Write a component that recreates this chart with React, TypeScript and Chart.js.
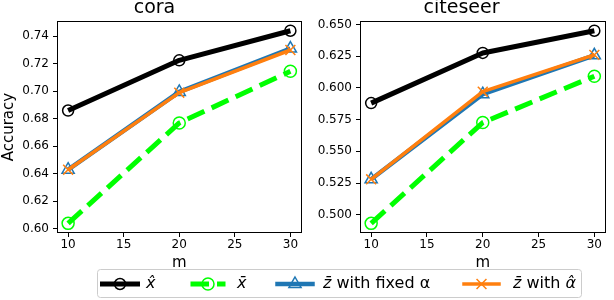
import React, { useEffect, useRef } from 'react';
import { Chart, registerables } from 'chart.js';

Chart.register(...registerables);
Chart.defaults.font.family = '"DejaVu Sans"';

// ---------- data ----------
const mValues = [10, 20, 30];
const xTickValues = [10, 15, 20, 25, 30];

const coraXHat = [0.686, 0.7225, 0.744];
const coraXBar = [0.604, 0.677, 0.7145];
const coraZFixed = [0.643, 0.6995, 0.731];
const coraZAlpha = [0.643, 0.699, 0.730];
const coraYTicks = [0.60, 0.62, 0.64, 0.66, 0.68, 0.70, 0.72, 0.74];

const citeseerXHat = [0.588, 0.6275, 0.645];
const citeseerXBar = [0.4933, 0.5727, 0.6092];
const citeseerZFixed = [0.528, 0.595, 0.6256];
const citeseerZAlpha = [0.528, 0.597, 0.626];
const citeseerYTicks = [0.500, 0.525, 0.550, 0.575, 0.600, 0.625, 0.650];

const panelTitles = ['cora', 'citeseer'];
const yAxisTitle = 'Accuracy';
const xAxisTitle = 'm';

// legend labels as [text, italic] segments
const seriesLabels: [string, boolean][][] = [
  [['x\u0302', true]],
  [['x\u0304', true]],
  [['z\u0304', true], [' with fixed \u03b1', false]],
  [['z\u0304', true], [' with ', false], ['\u03b1\u0302', true]],
];

// ---------- styles ----------
const seriesStyles = [
  { color: '#000000', lineWidth: 5, dash: [] as number[], marker: 'circle', radius: 5.5 },
  { color: '#00ff00', lineWidth: 5, dash: [18.5, 8], marker: 'circle', radius: 6 },
  { color: '#1f77b4', lineWidth: 4.5, dash: [] as number[], marker: 'triangle', radius: 7 },
  { color: '#ff7f0e', lineWidth: 3.5, dash: [] as number[], marker: 'crossRot', radius: 7 },
];

function extent(series: number[][]): [number, number] {
  const all = series.flat();
  const lo = Math.min(...all);
  const hi = Math.max(...all);
  const pad = (hi - lo) * 0.05;
  return [lo - pad, hi + pad];
}

const framePlugin = {
  id: 'frame',
  afterDraw(chart: any) {
    const { ctx, chartArea: a } = chart;
    ctx.save();
    ctx.strokeStyle = '#000';
    ctx.lineWidth = 1;
    const l = Math.round(a.left) + 0.5;
    const t = Math.round(a.top) + 0.5;
    const r = Math.round(a.right) - 0.5;
    const b = Math.round(a.bottom) - 0.5;
    ctx.strokeRect(l, t, r - l, b - t);
    ctx.restore();
  },
};

interface PanelProps {
  left: number;
  width: number;
  height: number;
  title: string;
  series: number[][];
  yTicks: number[];
  decimals: number;
  yAxisWidth: number;
  showYTitle: boolean;
}

function Panel(p: PanelProps) {
  const ref = useRef<HTMLCanvasElement>(null);
  useEffect(() => {
    const [ymin, ymax] = extent(p.series);
    const [xmin, xmax] = extent([mValues]);
    const tickFont = { family: '"DejaVu Sans"', size: 12 };
    const n = p.series.length;
    const chart = new Chart(ref.current as HTMLCanvasElement, {
      type: 'line',
      data: {
        datasets: p.series.map((vals, i) => {
          const s = seriesStyles[i];
          return {
            label: seriesLabels[i].map((x) => x[0]).join(''),
            data: mValues.map((m, j) => ({ x: m, y: vals[j] })),
            order: n - 1 - i,
            borderColor: s.color,
            borderWidth: s.lineWidth,
            borderDash: s.dash,
            borderJoinStyle: 'round',
            pointStyle: s.marker,
            pointRadius: s.radius,
            pointBorderWidth: 1.5,
            pointBorderColor: s.color,
            pointBackgroundColor: 'rgba(0,0,0,0)',
            tension: 0,
            fill: false,
            clip: false,
          } as any;
        }),
      },
      options: {
        animation: false,
        responsive: false,
        layout: { padding: { left: 0, right: 1, top: 0, bottom: 0 } },
        plugins: {
          legend: { display: false },
          tooltip: { enabled: false },
          title: {
            display: true,
            text: p.title,
            color: '#000',
            font: { size: 19, weight: 'normal', lineHeight: 0.9 },
            padding: { top: 0, bottom: 4 },
          },
        },
        scales: {
          x: {
            type: 'linear',
            min: xmin,
            max: xmax,
            afterBuildTicks: (s: any) => {
              s.ticks = xTickValues.map((v) => ({ value: v }));
            },
            afterFit: (s: any) => {
              s.height = p.height - 233;
            },
            ticks: {
              color: '#000',
              font: tickFont,
              padding: 1,
              maxRotation: 0,
              autoSkip: false,
              callback: (v: any) => String(v),
            },
            grid: { drawOnChartArea: false, drawTicks: true, tickLength: 4, color: '#000', lineWidth: 1 },
            border: { display: false },
            title: { display: true, text: xAxisTitle, color: '#000', font: { size: 15 }, padding: 0 },
          },
          y: {
            type: 'linear',
            min: ymin,
            max: ymax,
            afterBuildTicks: (s: any) => {
              s.ticks = p.yTicks.map((v) => ({ value: v }));
            },
            afterFit: (s: any) => {
              s.width = p.yAxisWidth;
            },
            ticks: {
              color: '#000',
              font: tickFont,
              padding: 4,
              autoSkip: false,
              callback: (v: any) => Number(v).toFixed(p.decimals),
            },
            grid: { drawOnChartArea: false, drawTicks: true, tickLength: 4, color: '#000', lineWidth: 1 },
            border: { display: false },
            title: { display: p.showYTitle, text: yAxisTitle, color: '#000', font: { size: 15 }, padding: 0 },
          },
        },
      } as any,
      plugins: [framePlugin],
    });
    return () => chart.destroy();
  }, []);
  return (
    <canvas
      ref={ref}
      width={p.width}
      height={p.height}
      style={{ position: 'absolute', left: p.left, top: 0, width: p.width, height: p.height }}
    />
  );
}

const legendCenters = [120, 208, 295, 481.5];
const legendTextX = [146, 237, 323, 513];

function drawMarker(ctx: CanvasRenderingContext2D, marker: string, x: number, y: number, r: number) {
  ctx.beginPath();
  if (marker === 'circle') {
    ctx.arc(x, y, r, 0, Math.PI * 2);
  } else if (marker === 'triangle') {
    let rad = 0;
    ctx.moveTo(x + Math.sin(rad) * r, y - Math.cos(rad) * r);
    rad += (2 * Math.PI) / 3;
    ctx.lineTo(x + Math.sin(rad) * r, y - Math.cos(rad) * r);
    rad += (2 * Math.PI) / 3;
    ctx.lineTo(x + Math.sin(rad) * r, y - Math.cos(rad) * r);
    ctx.closePath();
  } else if (marker === 'crossRot') {
    const d = r * Math.SQRT1_2;
    ctx.moveTo(x - d, y - d);
    ctx.lineTo(x + d, y + d);
    ctx.moveTo(x - d, y + d);
    ctx.lineTo(x + d, y - d);
  }
  ctx.stroke();
}

const legendPlugin = {
  id: 'customLegend',
  afterDraw(chart: any) {
    const ctx: CanvasRenderingContext2D = chart.ctx;
    const top = 262;
    ctx.save();
    // box
    const bx = 97.5, by = 269.5 - top, bw = 484, bh = 28;
    ctx.beginPath();
    (ctx as any).roundRect(bx, by, bw, bh, 3);
    ctx.fillStyle = 'rgba(255,255,255,0.8)';
    ctx.fill();
    ctx.strokeStyle = '#cccccc';
    ctx.lineWidth = 1;
    ctx.stroke();
    const cy = 284 - top;
    const half = 17.5;
    seriesStyles.forEach((s, i) => {
      const cx = legendCenters[i];
      ctx.beginPath();
      ctx.strokeStyle = s.color;
      ctx.lineWidth = s.lineWidth;
      ctx.setLineDash(s.dash);
      ctx.lineCap = s.dash.length ? 'butt' : 'square';
      ctx.moveTo(cx - half, cy);
      ctx.lineTo(cx + half, cy);
      ctx.stroke();
      ctx.setLineDash([]);
      ctx.lineCap = 'butt';
      ctx.lineWidth = 1.5;
      drawMarker(ctx, s.marker, cx, cy, s.radius);
      // text
      let tx = legendTextX[i];
      ctx.fillStyle = '#000';
      ctx.textBaseline = 'middle';
      ctx.textAlign = 'left';
      seriesLabels[i].forEach(([txt, italic]) => {
        ctx.font = `${italic ? 'italic ' : ''}16px "DejaVu Sans"`;
        ctx.fillText(txt, tx, cy);
        tx += ctx.measureText(txt).width;
      });
    });
    ctx.restore();
  },
};

function LegendCanvas() {
  const ref = useRef<HTMLCanvasElement>(null);
  useEffect(() => {
    const chart = new Chart(ref.current as HTMLCanvasElement, {
      type: 'line',
      data: { datasets: [] },
      options: {
        animation: false,
        responsive: false,
        plugins: { legend: { display: false }, tooltip: { enabled: false } },
        scales: { x: { display: false }, y: { display: false } },
      },
      plugins: [legendPlugin],
    });
    return () => chart.destroy();
  }, []);
  return (
    <canvas
      ref={ref}
      width={614}
      height={38}
      style={{ position: 'absolute', left: 0, top: 262, width: 614, height: 38 }}
    />
  );
}

export default function App() {
  return (
    <div style={{ position: 'absolute', left: 0, top: 0, width: 614, height: 300, background: '#fff' }}>
      <Panel
        left={0}
        width={310}
        height={272}
        title={panelTitles[0]}
        series={[coraXHat, coraXBar, coraZFixed, coraZAlpha]}
        yTicks={coraYTicks}
        decimals={2}
        yAxisWidth={57}
        showYTitle={true}
      />
      <Panel
        left={310}
        width={304}
        height={272}
        title={panelTitles[1]}
        series={[citeseerXHat, citeseerXBar, citeseerZFixed, citeseerZAlpha]}
        yTicks={citeseerYTicks}
        decimals={3}
        yAxisWidth={50}
        showYTitle={false}
      />
      <LegendCanvas />
    </div>
  );
}
